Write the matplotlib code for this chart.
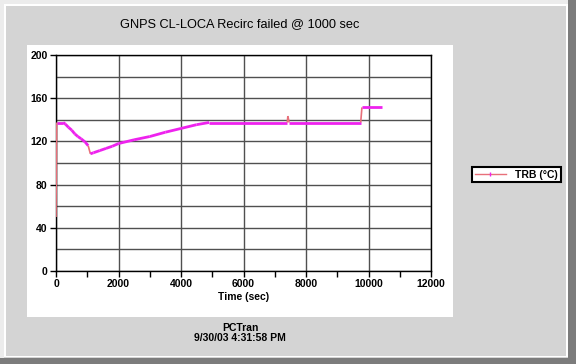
import matplotlib
matplotlib.use("Agg")
import matplotlib.pyplot as plt
import numpy as np
from matplotlib.patches import Rectangle
from matplotlib.lines import Line2D
from matplotlib.collections import LineCollection
from matplotlib.ticker import MultipleLocator

title = "GNPS CL-LOCA Recirc failed @ 1000 sec"
series_name = "TRB (°C)"
xlabel = "Time (sec)"
footer = "PCTran\n9/30/03 4:31:58 PM"

time_s = [0, 20, 230, 300, 400, 500, 600, 700, 800, 930, 1030, 1100, 1200, 1400,
          1600, 1800, 2000, 2500, 3000, 3500, 4000, 4500, 4900, 7400, 7420, 7460,
          9750, 9790, 10430]
trb = [50, 137.5, 137.5, 136, 133, 130.5, 127, 124.5, 122.5, 119.5, 116, 108.5,
       109.5, 111.5, 113.5, 115.5, 118, 121.5, 124.5, 128.5, 132, 135.5, 137.5,
       137.5, 143.5, 137.5, 137.5, 151.5, 151.5]

x_ticks = [0, 2000, 4000, 6000, 8000, 10000, 12000]
y_ticks = [0, 40, 80, 120, 160, 200]

W, H = 576, 364
fig = plt.figure(figsize=(W / 100, H / 100), dpi=100)
fig.patch.set_facecolor("#d4d4d4")

def fx(px):
    return px / W

def fy(py):
    return 1 - py / H

def rect(x0, y0, x1, y1, color, z=-1):
    fig.patches.append(Rectangle((fx(x0), fy(y1)), fx(x1) - fx(x0), fy(y0) - fy(y1),
                                 transform=fig.transFigure, facecolor=color,
                                 edgecolor="none", zorder=z))

# window frame
rect(0, 0, W, 4, "#ececec")
rect(0, 0, 4, H, "#ececec")
rect(4, 4, 566, 5.5, "#ffffff")
rect(4, 4, 5.5, 357, "#ffffff")
rect(566, 4, 567.5, 357, "#ffffff")
rect(4, 355.5, 567.5, 357, "#ffffff")
rect(568, 0, W, H, "#7c7c7c")
rect(0, 358, W, H, "#7c7c7c")
# white chart panel
rect(26.5, 45, 453, 317, "#ffffff")

ax = fig.add_axes([fx(56), fy(271), fx(431) - fx(56), fy(55) - fy(271)])
ax.set_zorder(2)
ax.set_facecolor("white")
ax.set_xlim(0, 12000)
ax.set_ylim(0, 200)

ax.xaxis.set_major_locator(MultipleLocator(2000))
ax.xaxis.set_minor_locator(MultipleLocator(1000))
ax.yaxis.set_major_locator(MultipleLocator(40))
ax.yaxis.set_minor_locator(MultipleLocator(20))
ax.set_xticks(x_ticks)
ax.set_yticks(y_ticks)

ax.grid(True, which="major", axis="x", color="#505050", lw=1)
ax.grid(True, which="both", axis="y", color="#505050", lw=1)
ax.set_axisbelow(True)

for s in ax.spines.values():
    s.set_color("black")
    s.set_linewidth(1)

tick_font = dict(family="Liberation Sans", weight="bold", size=7.5)
ax.set_xticklabels([str(v) for v in x_ticks], **tick_font)
ax.set_yticklabels([str(v) for v in y_ticks], **tick_font)
ax.tick_params(which="both", direction="out", length=4, width=1, color="black", pad=2)
ax.tick_params(axis="y", which="minor", length=0)

ax.set_xlabel(xlabel, family="Liberation Sans", weight="bold", size=7.5, labelpad=2)

# data line: salmon base line, magenta where nearly continuous
pts = np.column_stack([time_s, trb])
segs = np.stack([pts[:-1], pts[1:]], axis=1)
dv = np.abs(np.diff(trb))
colors = ["#ee22ee" if d < 5 else "#e8707a" for d in dv]
widths = [2.0 if d < 5 else 1.2 for d in dv]
lc = LineCollection(segs, colors=colors, linewidths=widths, zorder=3, capstyle="butt")
ax.add_collection(lc)

fig.text(fx(240), fy(24), title, ha="center", va="center",
         family="Liberation Sans", size=9.2)
fig.text(fx(240), fy(333), footer, ha="center", va="center",
         family="Liberation Sans", weight="bold", size=7.5, linespacing=1.1)

handle = Line2D([0], [0], color="#e8707a", lw=1, marker="|", markersize=3,
                markeredgecolor="#ee22ee", markevery=[0])
leg = fig.legend([handle], [series_name], loc="center left",
                 bbox_to_anchor=(fx(472), fy(174.5)), frameon=True, fancybox=False,
                 edgecolor="black", framealpha=1, borderpad=0.25, handlelength=3.0,
                 handletextpad=0.9, borderaxespad=0,
                 prop=dict(family="Liberation Sans", weight="bold", size=7.5))
leg.get_frame().set_linewidth(1.5)
leg.set_zorder(3)

fig.savefig("out.png", dpi=100, facecolor=fig.get_facecolor())
